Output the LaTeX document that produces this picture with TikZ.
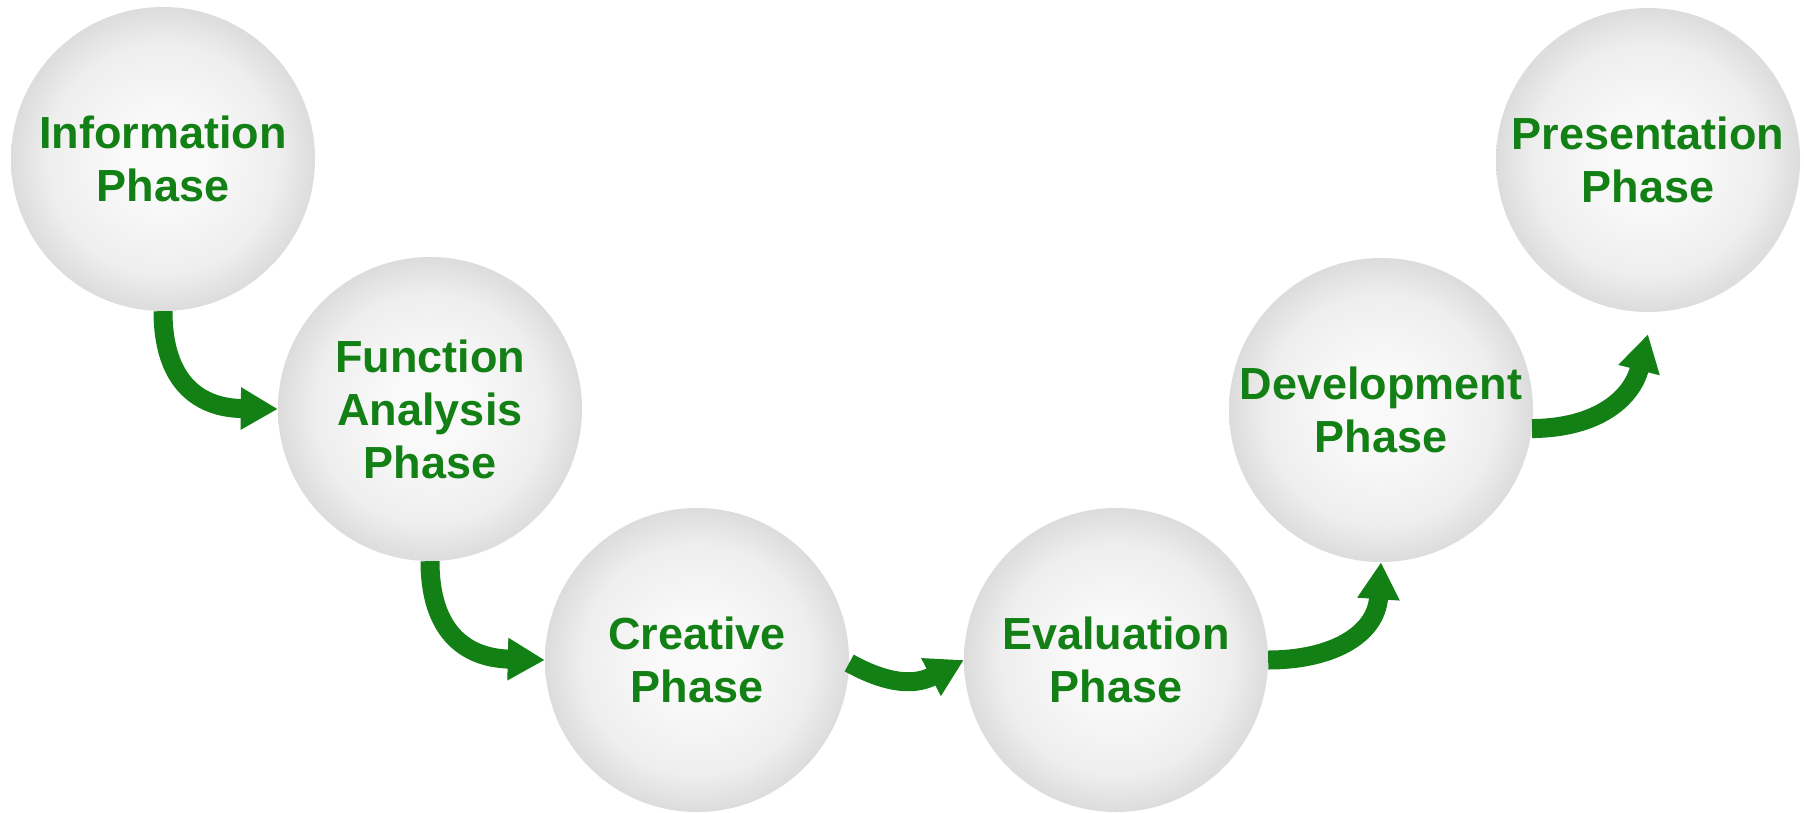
\documentclass[tikz,border=0pt]{standalone}
\usepackage{fontspec}
\setmainfont{Liberation Sans}
\usetikzlibrary{arrows.meta}
\definecolor{phgreen}{RGB}{18,128,20}
\definecolor{sphc}{RGB}{249,249,249}
\definecolor{sphm}{RGB}{238,238,238}
\definecolor{sphe}{RGB}{220,220,220}
\pgfdeclareradialshading{sphere}{\pgfpoint{0bp}{0bp}}{color(0bp)=(sphc); color(7bp)=(sphc); color(19bp)=(sphm); color(25bp)=(sphe); color(50bp)=(sphe)}
\begin{document}
\begin{tikzpicture}[x=1pt,y=-1pt,
  phase/.style={circle, minimum size=304pt, inner sep=0pt, shading=sphere,
    align=center, text=phgreen, font=\fontsize{45}{53}\selectfont\bfseries},
  flow/.style={draw=phgreen, line width=19pt, -{Triangle[length=37pt,width=40pt]}}]
\fill[white] (0,0) rectangle (1804,812);
\useasboundingbox (0,0) rectangle (1804,812);
\node[phase] (info) at (163,159) {Information\\Phase};
\node[phase] (func) at (430,409) {Function\\Analysis\\Phase};
\node[phase] (crea) at (697,660) {Creative\\Phase};
\node[phase] (eval) at (1116,660) {Evaluation\\Phase};
\node[phase] (dev) at (1381,410) {Development\\Phase};
\node[phase] (pres) at (1648,160) {Presentation\\Phase};
\coordinate (p5) at ([yshift=-22pt]pres.south);
\draw[flow] (info.south) .. controls (163,378) and (195,408) .. (func.west);
\draw[flow] (func.south) .. controls (430,628) and (462,658) .. (crea.west);
\draw[flow] ([yshift=-3pt]crea.east) .. controls (880,680) and (910,688) .. (eval.west);
\draw[flow] (eval.east) .. controls (1330,660) and (1376,636) .. (dev.south);
\draw[flow] (dev.-7) .. controls (1598,428) and (1632,398) .. (p5);
\end{tikzpicture}
\end{document}
